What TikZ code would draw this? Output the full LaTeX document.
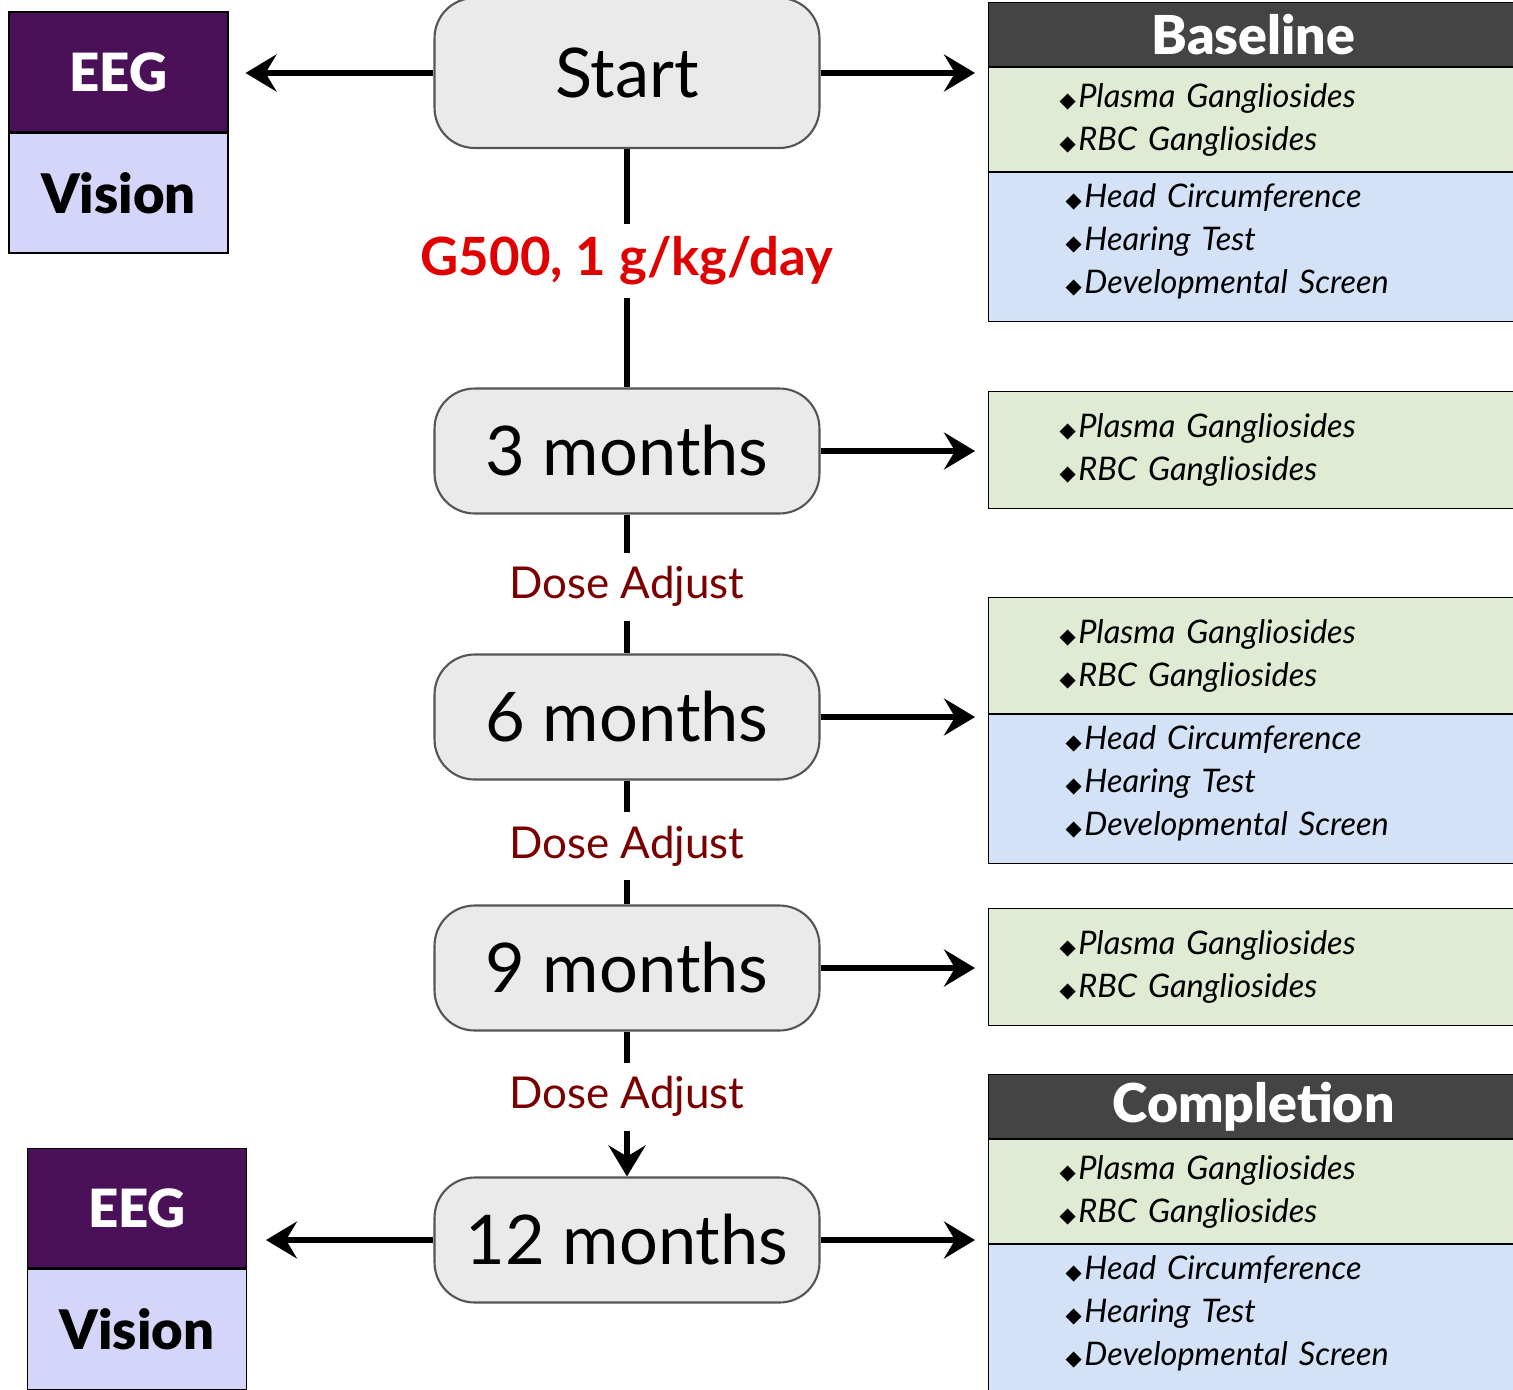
\documentclass[tikz,border=0pt]{standalone}
\usepackage{fontspec}
\setmainfont{Lato}
\newfontfamily\heavyfont{Lato Black}
\newfontfamily\symfont{DejaVu Sans}
\usetikzlibrary{arrows.meta, positioning}
\definecolor{eegpurple}{HTML}{4A1158}
\definecolor{visionlilac}{HTML}{D5D5FA}
\definecolor{headgray}{HTML}{444444}
\definecolor{labgreen}{HTML}{E0EBD4}
\definecolor{clinblue}{HTML}{D4E2F8}
\definecolor{stepfill}{HTML}{EAEAEA}
\definecolor{stepdraw}{HTML}{555555}
\definecolor{dosered}{HTML}{E00000}
\definecolor{adjustred}{HTML}{7A0000}
\newcommand{\itm}{{\symfont\upshape\fontsize{12}{12}\selectfont ◆}\hspace{1.5pt}}
\newcommand{\clintail}{\par\vspace{7pt}}

\begin{document}
\begin{tikzpicture}[x=0.02cm, y=-0.02cm,
            visit/.style={rectangle, rounded corners=0.8cm, draw=stepdraw, fill=stepfill, line width=1.2pt, minimum width=7.7cm, minimum height=2.5cm, font=\fontsize{39}{41}\selectfont},
            eeg/.style={rectangle, draw=black, line width=0.6pt, fill=eegpurple, text=white, minimum width=4.38cm, minimum height=2.4cm, font=\heavyfont\fontsize{30}{32}\selectfont},
            vis/.style={eeg, fill=visionlilac, text=black, font=\heavyfont\fontsize{31}{33}\selectfont},
            hdr/.style={rectangle, draw=black, line width=0.6pt, fill=headgray, text=white, anchor=north west, minimum width=10.6cm, minimum height=1.28cm, font=\heavyfont\fontsize{30.5}{32}\selectfont},
            lab/.style={rectangle, draw=black, line width=0.6pt, fill=labgreen, anchor=north west, inner xsep=1.42cm, text width=7.76cm, align=left, font=\itshape\fontsize{18.5}{24.5}\selectfont},
            clin/.style={lab, fill=clinblue, inner xsep=1.54cm, text width=7.52cm, execute at end node=\clintail},
            link/.style={line width=3.5pt},
            arr/.style={line width=3.5pt, -{Stealth[length=0.62cm, width=0.74cm, inset=0.22cm]}},
            dosage/.style={fill=white, text=dosered, inner ysep=7pt, font=\bfseries\fontsize{30}{32}\selectfont},
            adjust/.style={fill=white, text=adjustred, inner ysep=8pt, font=\fontsize{25}{27}\selectfont}]
            \useasboundingbox (0,0) rectangle (1513,1389);
            \clip (0,0) rectangle (1513,1389);
            \node[visit, minimum height=3cm] (start) at (627,73) {Start};
            \node[visit] (m3) at (627,451) {3 months};
            \node[visit] (m6) at (627,717) {6 months};
            \node[visit] (m9) at (627,968) {9 months};
            \node[visit] (m12) at (627,1240) {12 months};
            \node[eeg] (eeg1) at (118.5,72) {EEG};
            \node[vis, below=0pt of eeg1] (vis1) {Vision};
            \node[eeg] (eeg2) at (137,1208) {EEG};
            \node[vis, below=0pt of eeg2] (vis2) {Vision};
            \node[hdr] (b0) at (988,2) {Baseline};
            \node[lab, minimum height=2.08cm] (b1) at (b0.south west) {\itm Plasma Gangliosides\\ \itm RBC Gangliosides};
            \node[clin, minimum height=2.98cm] (b2) at (b1.south west) {\itm Head Circumference\\ \itm Hearing Test\\ \itm Developmental Screen};
            \node[lab, minimum height=2.34cm] (p3) at (988,391) {\itm Plasma Gangliosides\\ \itm RBC Gangliosides};
            \node[lab, minimum height=2.32cm] (p6) at (988,597) {\itm Plasma Gangliosides\\ \itm RBC Gangliosides};
            \node[clin, minimum height=2.98cm] (q6) at (p6.south west) {\itm Head Circumference\\ \itm Hearing Test\\ \itm Developmental Screen};
            \node[lab, minimum height=2.34cm] (p9) at (988,908) {\itm Plasma Gangliosides\\ \itm RBC Gangliosides};
            \node[hdr] (c0) at (988,1074) {Completion};
            \node[lab, minimum height=2.08cm] (c1) at (c0.south west) {\itm Plasma Gangliosides\\ \itm RBC Gangliosides};
            \node[clin, minimum height=2.98cm] (c2) at (c1.south west) {\itm Head Circumference\\ \itm Hearing Test\\ \itm Developmental Screen};
            \draw[link] (start.south) -- node[dosage, pos=0.47] {G500, 1 g/kg/day} (m3.north);
            \draw[link] (m3.south) -- node[adjust, pos=0.52] {Dose Adjust} (m6.north);
            \draw[link] (m6.south) -- node[adjust, pos=0.53] {Dose Adjust} (m9.north);
            \draw[arr] (m9.south) -- node[adjust, pos=0.45] {Dose Adjust} (m12.north);
            \draw[arr, shorten >=0.26cm] (start.east) -- (start.east -| b1.west);
            \draw[arr, shorten >=0.26cm] (m3.east) -- (m3.east -| p3.west);
            \draw[arr, shorten >=0.26cm] (m6.east) -- (m6.east -| p6.west);
            \draw[arr, shorten >=0.26cm] (m9.east) -- (m9.east -| p9.west);
            \draw[arr, shorten >=0.26cm] (m12.east) -- (m12.east -| c1.west);
            \draw[arr, shorten >=0.34cm] (start.west) -- (start.west -| eeg1.east);
            \draw[arr, shorten >=0.38cm] (m12.west) -- (m12.west -| eeg2.east);
        \end{tikzpicture}
\end{document}
